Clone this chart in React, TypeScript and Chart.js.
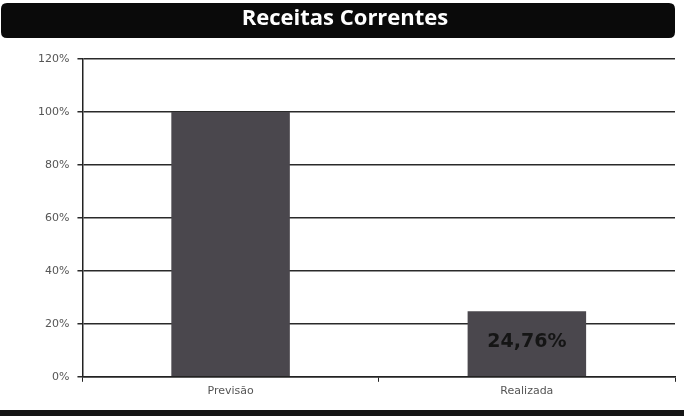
import React, { useEffect, useRef } from "react";
import { Chart, registerables } from "chart.js";

Chart.register(...registerables);

const categories = ["Previsão", "Realizada"];
const values = [1.0, 0.2476];
const barLabels = ["", "24,76%"];
const yTicks = [0, 0.2, 0.4, 0.6, 0.8, 1.0, 1.2];
const titleText = "Receitas Correntes";

const titleBgPlugin = {
  id: "titleBg",
  beforeDraw(chart: any) {
    const { ctx, width } = chart;
    ctx.save();
    ctx.fillStyle = "#ffffff";
    ctx.fillRect(0, 0, width, chart.height);
    ctx.fillStyle = "#0a0a0a";
    const x = 1, y = 3, w = width - 10, h = 35, r = 6;
    ctx.beginPath();
    ctx.moveTo(x + r, y);
    ctx.lineTo(x + w - r, y);
    ctx.quadraticCurveTo(x + w, y, x + w, y + r);
    ctx.lineTo(x + w, y + h - r);
    ctx.quadraticCurveTo(x + w, y + h, x + w - r, y + h);
    ctx.lineTo(x + r, y + h);
    ctx.quadraticCurveTo(x, y + h, x, y + h - r);
    ctx.lineTo(x, y + r);
    ctx.quadraticCurveTo(x, y, x + r, y);
    ctx.fill();
    ctx.fillStyle = "#ffffff";
    ctx.font = "bold 22px 'Open Sans', sans-serif";
    ctx.textAlign = "center";
    ctx.textBaseline = "middle";
    ctx.fillText(titleText, 345, 19);
    // bottom dark strip (scan border)
    ctx.fillStyle = "#151515";
    ctx.fillRect(0, chart.height - 6, width, 6);
    ctx.restore();
  },
};

const barLabelPlugin = {
  id: "barLabels",
  afterDatasetsDraw(chart: any) {
    const { ctx } = chart;
    const meta = chart.getDatasetMeta(0);
    ctx.save();
    ctx.font = "bold 19px 'DejaVu Sans', sans-serif";
    ctx.fillStyle = "#151515";
    ctx.textAlign = "center";
    ctx.textBaseline = "middle";
    meta.data.forEach((bar: any, i: number) => {
      const t = barLabels[i];
      if (!t) return;
      ctx.fillText(t, bar.x, (bar.y + bar.base) / 2 - 2);
    });
    ctx.restore();
  },
};

export default function App() {
  const ref = useRef<HTMLCanvasElement>(null);
  useEffect(() => {
    document.body.style.margin = "0";
    const chart = new Chart(ref.current!, {
      type: "bar",
      data: {
        labels: categories,
        datasets: [
          {
            data: values,
            backgroundColor: "#4a474d",
            borderWidth: 0,
            categoryPercentage: 0.8,
            barPercentage: 0.5,
          },
        ],
      },
      options: {
        responsive: false,
        animation: false,
        layout: { padding: { left: 30, right: 9, top: 59, bottom: 15 } },
        plugins: {
          legend: { display: false },
          tooltip: { enabled: false },
          title: { display: false },
        },
        scales: {
          x: {
            grid: { display: true, drawOnChartArea: false, drawTicks: true, tickLength: 5, color: "#222", offset: true },
            border: { color: "#222", width: 1.5 },
            ticks: { color: "#555", font: { family: "'DejaVu Sans', sans-serif", size: 11 }, padding: 3 },
          },
          y: {
            min: 0,
            max: 1.2,
            afterBuildTicks(axis: any) {
              axis.ticks = yTicks.map((v) => ({ value: v }));
            },
            grid: { color: "#2a2a2a", lineWidth: 1.5, tickLength: 5 },
            border: { color: "#222", width: 1.5 },
            ticks: {
              color: "#555",
              font: { family: "'DejaVu Sans', sans-serif", size: 11 },
              padding: 8,
              callback: (v: any) => Math.round(Number(v) * 100) + "%",
            },
          },
        },
      },
      plugins: [titleBgPlugin, barLabelPlugin],
    });
    return () => chart.destroy();
  }, []);
  return <canvas ref={ref} width={684} height={416} style={{ display: "block" }} />;
}
